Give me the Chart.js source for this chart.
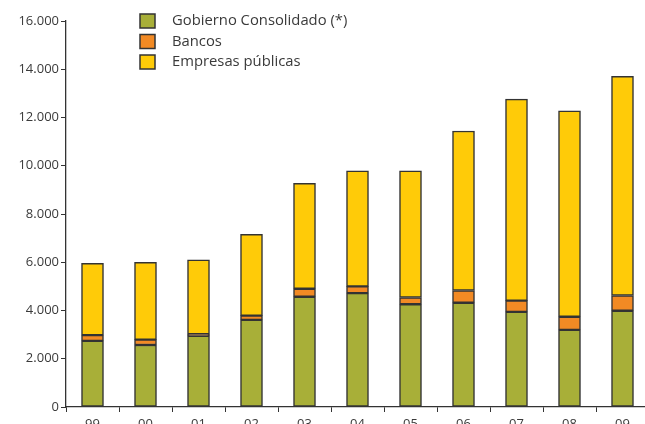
<!DOCTYPE html>
<html>
<head>
<meta charset="utf-8">
<script src="https://cdn.jsdelivr.net/npm/chart.js@4/dist/chart.umd.min.js"></script>
<style>
    html, body { margin: 0; padding: 0; background: #fff; overflow: hidden; }
    #wrap { width: 645px; height: 424px; overflow: hidden; position: relative; }
    canvas { position: absolute; left: 0; top: 0; }
</style>
</head>
<body>
<div id="wrap"><canvas id="chart" width="650" height="440"></canvas></div>
<script>
const years = ["99", "00", "01", "02", "03", "04", "05", "06", "07", "08", "09"];
const gobierno = [2740, 2570, 2950, 3610, 4570, 4720, 4260, 4320, 3940, 3200, 3990];
const bancos = [240, 220, 70, 180, 330, 280, 280, 510, 470, 540, 630];
const empresas = [2980, 3210, 3080, 3370, 4370, 4790, 5250, 6610, 8350, 8540, 9090];
const seriesNames = ["Gobierno Consolidado (*)", "Bancos", "Empresas públicas"];
const seriesColors = ["#a8af38", "#f28a24", "#ffcb08"];

const fontFamily = "'Open Sans', 'Noto Sans', sans-serif";
const textColor = "#3a3a3a";

// legend drawn by hand at the top left, like the original
const legendPlugin = {
    id: "boxLegend",
    afterDraw(chart) {
        const ctx = chart.ctx;
        ctx.save();
        ctx.font = "14.8px " + fontFamily;
        ctx.textBaseline = "middle";
        chart.data.datasets.forEach((ds, i) => {
            const cy = 21 + i * 20.5;
            ctx.fillStyle = ds.backgroundColor;
            ctx.fillRect(140, cy - 7, 15, 14);
            ctx.strokeStyle = "#333";
            ctx.lineWidth = 1.5;
            ctx.strokeRect(140, cy - 7, 15, 14);
            ctx.fillStyle = textColor;
            ctx.fillText(ds.label, 172, cy);
        });
        ctx.restore();
    }
};

function makeDataset(i, values) {
    return {
        label: seriesNames[i],
        data: values,
        backgroundColor: seriesColors[i],
        borderColor: "#333333",
        borderWidth: 1.5,
        borderSkipped: false,
        barThickness: 22
    };
}

new Chart(document.getElementById("chart"), {
    type: "bar",
    data: {
        labels: years,
        datasets: [
            makeDataset(0, gobierno),
            makeDataset(1, bancos),
            makeDataset(2, empresas)
        ]
    },
    options: {
        responsive: false,
        animation: false,
        layout: { padding: { top: 21, right: 1, bottom: 0, left: 0 } },
        plugins: {
            legend: { display: false },
            tooltip: { enabled: false }
        },
        scales: {
            x: {
                stacked: true,
                afterFit: function (scale) { scale.height = 33; },
                grid: {
                    offset: true,
                    drawOnChartArea: false,
                    drawTicks: true,
                    tickLength: 5,
                    color: "#333333"
                },
                border: { display: true, color: "#333333", width: 1.3 },
                ticks: {
                    color: textColor,
                    font: { family: fontFamily, size: 13 },
                    padding: 4,
                    maxRotation: 0
                }
            },
            y: {
                stacked: true,
                min: 0,
                max: 16000,
                afterFit: function (scale) { scale.width = 66; },
                grid: {
                    drawOnChartArea: false,
                    drawTicks: true,
                    tickLength: 5,
                    color: "#333333"
                },
                border: { display: true, color: "#333333", width: 1.3 },
                ticks: {
                    stepSize: 2000,
                    color: textColor,
                    font: { family: fontFamily, size: 13 },
                    padding: 2,
                    callback: v => v.toLocaleString("de-DE")
                }
            }
        }
    },
    plugins: [legendPlugin]
});
</script>
</body>
</html>
